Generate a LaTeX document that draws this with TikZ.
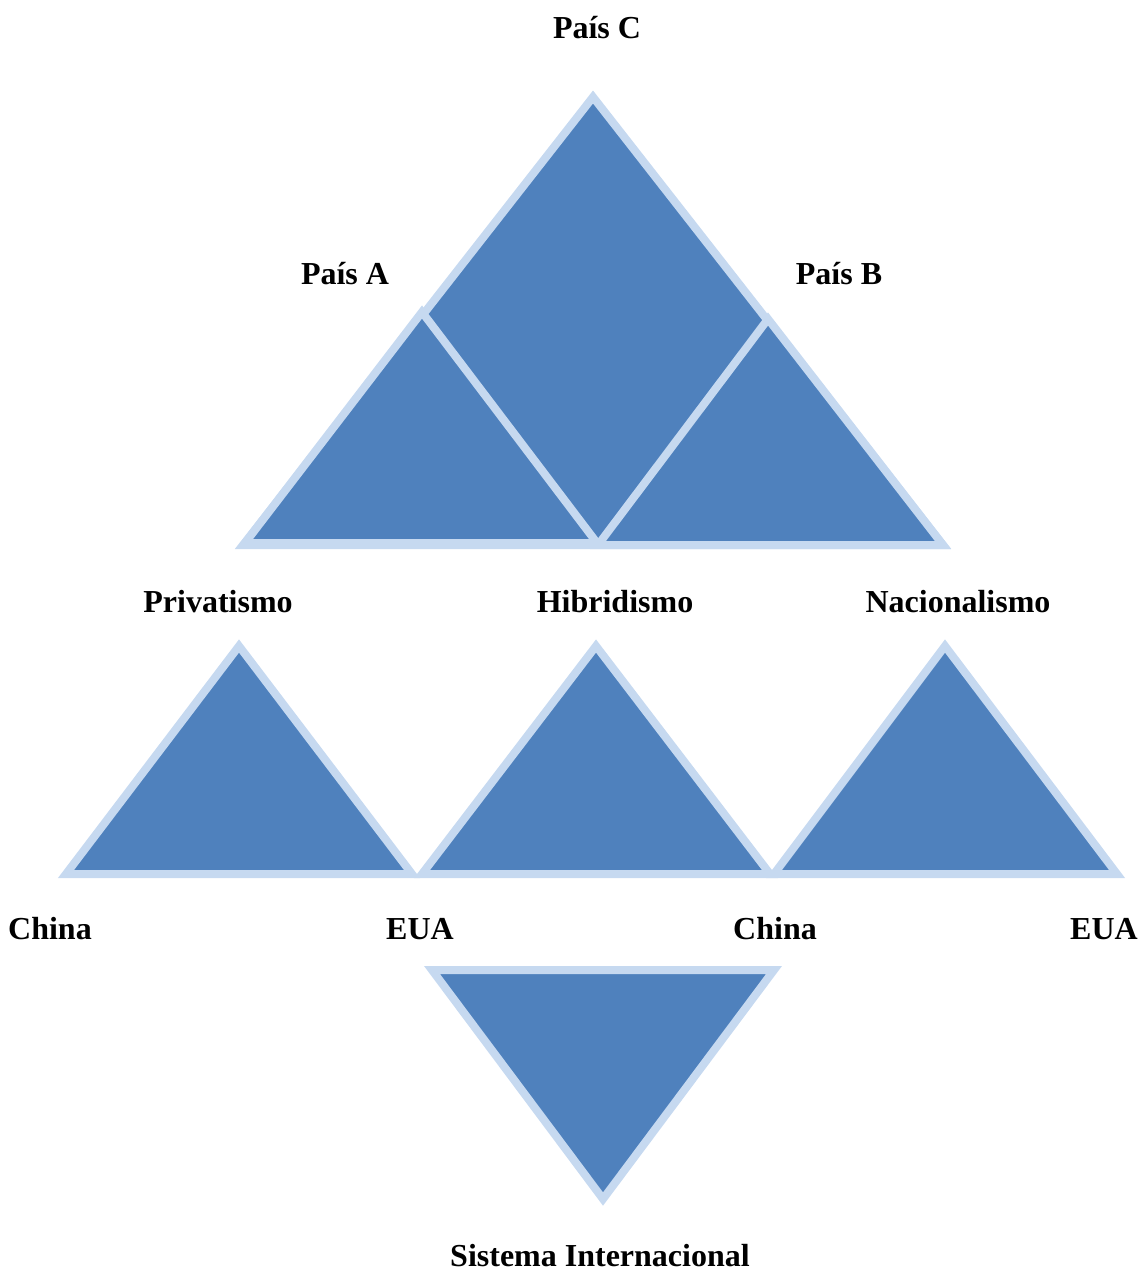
\documentclass[tikz,border=0pt]{standalone}
\usepackage{fontspec}
\setmainfont{Liberation Serif}
\definecolor{triFill}{HTML}{4F81BD}
\definecolor{triEdge}{HTML}{C6D9F0}
\begin{document}
\begin{tikzpicture}[x=1pt,y=-1pt,
  tri/.style={fill=triFill,draw=triEdge,line width=8pt,line join=miter},
  lbl/.style={anchor=base,inner sep=0pt,font=\fontsize{32}{38}\selectfont\bfseries}]
\useasboundingbox (0,0) rectangle (1142,1269);

% upper group: country C with countries A and B
\draw[tri] (593,97) -- (243,545) -- (943,545) -- cycle;
\draw[tri] (422,312) -- (245,543) -- (597,543) -- cycle;
\draw[tri] (768,319) -- (598,545) -- (943,545) -- cycle;

% middle row of models
\draw[tri] (239,646) -- (66,874) -- (412,874) -- cycle;
\draw[tri] (596,646) -- (422,874) -- (770,874) -- cycle;
\draw[tri] (945,646) -- (774,874) -- (1117,874) -- cycle;

% international system
\draw[tri] (432,970) -- (774,970) -- (603,1199) -- cycle;

% labels
\node[lbl] (paisC) at (597,38) {País C};
\node[lbl] (paisA) at (345,284) {País A};
\node[lbl] (paisB) at (839,284) {País B};
\node[lbl] (priv) at (218,612) {Privatismo};
\node[lbl] (hibr) at (615,612) {Hibridismo};
\node[lbl] (naci) at (958,612) {Nacionalismo};
\node[lbl] (china1) at (50,939) {China};
\node[lbl] (eua1) at (420,939) {EUA};
\node[lbl] (china2) at (775,939) {China};
\node[lbl] (eua2) at (1104,939) {EUA};
\node[lbl] (sist) at (600,1266) {Sistema Internacional};
\end{tikzpicture}
\end{document}
